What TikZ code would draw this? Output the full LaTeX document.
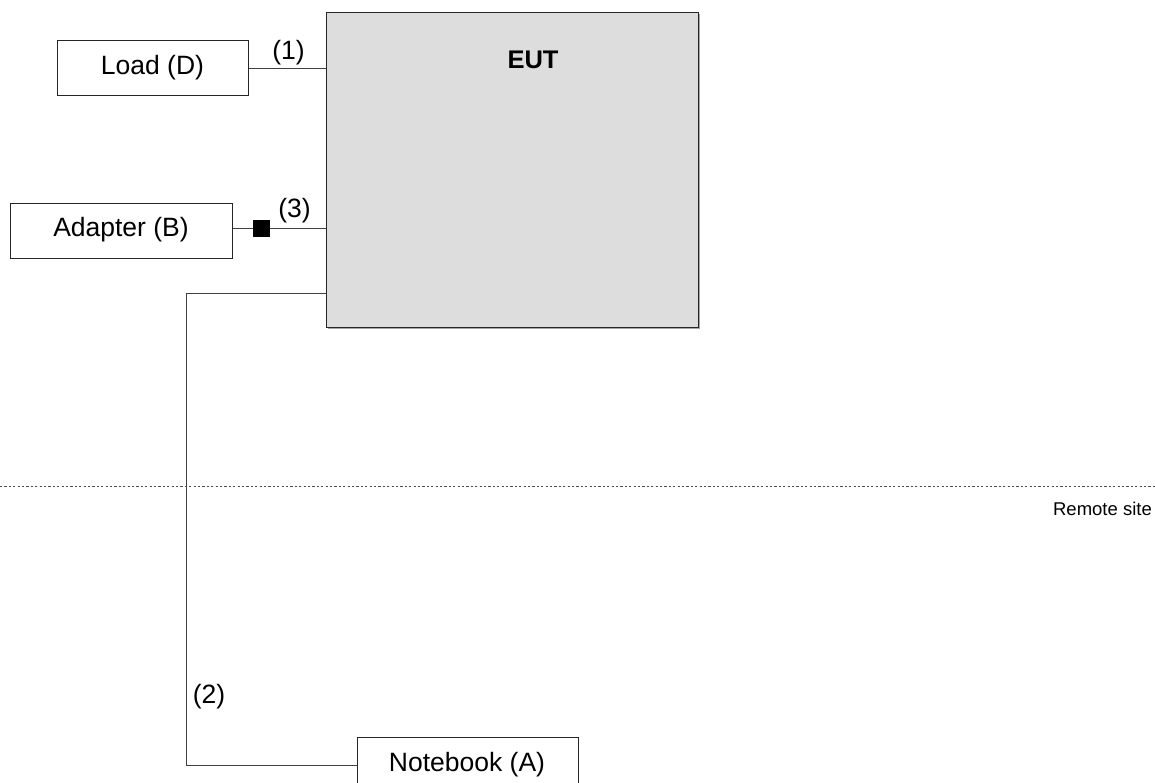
\documentclass[tikz,border=0pt]{standalone}
\usepackage{fontspec}
\setmainfont{Liberation Sans}
\begin{document}
\begin{tikzpicture}[x=1pt,y=-1pt,
  devbox/.style={draw=black!85, line width=1.1pt, fill=white, inner sep=0pt, anchor=north west},
  lbl/.style={font=\fontsize{26.5}{30}\selectfont, inner sep=0pt},
  wire/.style={draw=black!75, line width=1pt},
  small/.style={font=\fontsize{18.5}{22}\selectfont, inner sep=0pt}]
\useasboundingbox (0,0) rectangle (1155,783);
% EUT with slight shadow
\draw[black!35, line width=1.5pt] (699,14) -- (699,328) -- (328,328);
\node[devbox, fill={rgb,255:red,221;green,221;blue,221}, minimum width=372pt, minimum height=315pt] (eut) at (326,12) {};
\node[font=\bfseries\fontsize{25.5}{30}\selectfont, inner sep=0pt] (eutlbl) at (533,60) {EUT};
% Load
\node[devbox, minimum width=191pt, minimum height=55pt] (load) at (57,40) {};
\node[lbl] (loadlbl) at (152.5,67.5) {Load (D)};
% Adapter
\node[devbox, minimum width=222pt, minimum height=55pt] (adapter) at (10,203) {};
\node[lbl] (adapterlbl) at (121,230) {Adapter (B)};
% Notebook
\node[devbox, minimum width=221pt, minimum height=60pt] (notebook) at (357,737) {};
\node[lbl] (nblbl) at (467,765) {Notebook (A)};
% square connector
\node[fill=black, minimum size=17pt, inner sep=0pt] (sq) at (261.5,228.5) {};
% wires
\draw[wire] (load.east) -- (load.east -| eut.west);
\draw[wire] (adapter.east |- sq.center) -- (sq.west);
\draw[wire] (sq.east) -- (sq.center -| eut.west);
\coordinate (c1) at (186,293);
\coordinate (c2) at (186,765.5);
\draw[wire] (c1 -| eut.west) -- (c1) -- (c2) -- (c2 -| notebook.west);
% labels
\node[lbl] (l1) at (288.5,52.5) {(1)};
\node[lbl] (l3) at (294.5,211) {(3)};
\node[lbl] (l2) at (209,697) {(2)};
% remote site line
\coordinate (dl) at (0,486.5);
\coordinate (dr) at (1155,486.5);
\draw[black!70, line width=1pt, dash pattern=on 2.2pt off 2.2pt] (dl) -- (dr);
\node[small, anchor=east] (remote) at (1152,509) {Remote site};
\end{tikzpicture}
\end{document}
